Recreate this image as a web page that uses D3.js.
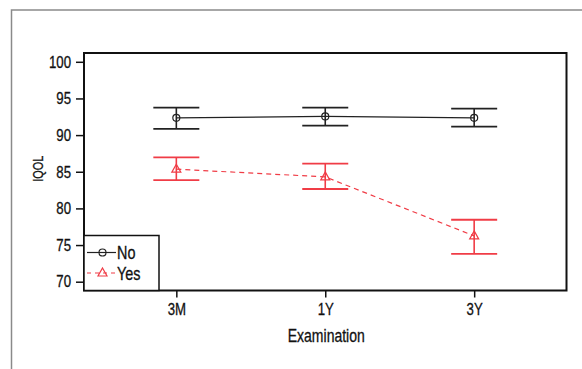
<!DOCTYPE html>
<html>
<head>
<style>
body { margin: 0; background: #fff; }
text {
    font-family: "Liberation Sans", Arial, sans-serif;
    font-size: 16px;
    fill: #111;
    stroke: #111;
    stroke-width: 0.3px;
}
.axis path, .axis line { stroke: #111; stroke-width: 1.5px; }
</style>
</head>
<body>
<div id="chart"></div>
<script src="https://d3js.org/d3.v7.min.js"></script>
<script>
(function() {
    var dimensions = { width: 582, height: 369 };
    var margins = { top: 53, right: 15.5, bottom: 78.5, left: 84 };
    var squeeze = 0.8; // fake a narrow face

    var exams = ["3M", "1Y", "3Y"];
    var yTicks = [70, 75, 80, 85, 90, 95, 100];
    var noMean = [92.35, 92.55, 92.35];
    var noLow = [90.85, 91.3, 91.15];
    var noHigh = [93.75, 93.75, 93.6];
    var yesMean = [85.35, 84.3, 76.25];
    var yesLow = [83.85, 82.65, 73.8];
    var yesHigh = [86.95, 86.1, 78.45];

    var series = [
        { name: "No", mean: noMean, low: noLow, high: noHigh, color: "#222", dash: null, marker: "circle" },
        { name: "Yes", mean: yesMean, low: yesLow, high: yesHigh, color: "#f03c46", dash: "5,4", marker: "triangle" }
    ];

    var w = dimensions.width - margins.left - margins.right;
    var h = dimensions.height - margins.top - margins.bottom;

    // squeeze text horizontally around its own x
    function narrow(sel) {
        sel.each(function() {
            var t = d3.select(this);
            var x = +t.attr("x") || 0;
            var y = +t.attr("y") || 0;
            t.attr("x", 0).attr("y", 0)
                .attr("transform", "translate(" + x + "," + y + ") scale(" + squeeze + ",1)");
        });
    }

    var svg = d3.select("#chart").append("svg")
        .attr("width", dimensions.width)
        .attr("height", dimensions.height);

    // outer panel frame (top and left edges only visible)
    svg.append("path")
        .attr("d", "M11.5," + dimensions.height + "V10H" + dimensions.width)
        .attr("fill", "none")
        .attr("stroke", "#8a8a8a")
        .attr("stroke-width", 1.5);

    var xscale = d3.scalePoint()
        .domain(exams)
        .range([0, w])
        .padding(0.62);
    var yscale = d3.scaleLinear()
        .domain([68.8, 101.2])
        .range([h, 0]);

    var g = svg.append("g")
        .attr("transform", "translate(" + margins.left + "," + margins.top + ")");

    g.append("rect")
        .attr("width", w).attr("height", h)
        .attr("fill", "none")
        .attr("stroke", "#111")
        .attr("stroke-width", 2);

    var yaxis = d3.axisLeft(yscale).tickValues(yTicks).tickSize(8).tickPadding(5);
    g.append("g").attr("class", "axis").call(yaxis)
        .call(function(s) { s.select(".domain").remove(); });

    var xaxis = d3.axisBottom(xscale).tickSize(7).tickPadding(6);
    g.append("g").attr("class", "axis")
        .attr("transform", "translate(0," + h + ")")
        .call(xaxis)
        .call(function(s) { s.select(".domain").remove(); });

    g.selectAll(".axis text").style("font-size", "16.5px").attr("fill", "#111")
        .call(narrow);

    g.append("text")
        .attr("x", w / 2 + 1)
        .attr("y", h + 51)
        .attr("text-anchor", "middle")
        .style("font-size", "17.5px")
        .text("Examination")
        .call(narrow);

    g.append("text")
        .attr("transform", "translate(-41.5," + (h / 2 - 3) + ") rotate(-90) scale(0.75,1)")
        .attr("text-anchor", "middle")
        .style("font-size", "14.5px")
        .text("IQOL");

    var line = d3.line()
        .x(function(d, i) { return xscale(exams[i]); })
        .y(function(d) { return yscale(d); });

    function marker(sel, type, color, cx, cy) {
        if (type === "circle") {
            sel.append("circle")
                .attr("cx", cx).attr("cy", cy).attr("r", 3.5)
                .attr("fill", "none").attr("stroke", color).attr("stroke-width", 1.2);
        } else {
            sel.append("path")
                .attr("d", "M" + cx + "," + (cy - 5) + "L" + (cx + 4.5) + "," + (cy + 3) + "L" + (cx - 4.5) + "," + (cy + 3) + "Z")
                .attr("fill", "none").attr("stroke", color).attr("stroke-width", 1.2);
        }
    }

    series.forEach(function(s) {
        var gs = g.append("g");
        gs.append("path")
            .attr("d", line(s.mean))
            .attr("fill", "none")
            .attr("stroke", s.color)
            .attr("stroke-width", 1.2)
            .attr("stroke-dasharray", s.dash);
        exams.forEach(function(e, i) {
            var x = xscale(e);
            gs.append("line")
                .attr("x1", x).attr("x2", x)
                .attr("y1", yscale(s.low[i])).attr("y2", yscale(s.high[i]))
                .attr("stroke", s.color).attr("stroke-width", 1.6);
            [s.low[i], s.high[i]].forEach(function(v) {
                gs.append("line")
                    .attr("x1", x - 23).attr("x2", x + 23)
                    .attr("y1", yscale(v)).attr("y2", yscale(v))
                    .attr("stroke", s.color).attr("stroke-width", 1.8);
            });
            marker(gs, s.marker, s.color, x, yscale(s.mean[i]));
        });
    });

    // legend
    var lg = g.append("g").attr("transform", "translate(0," + (h - 55) + ")");
    lg.append("rect")
        .attr("width", 75).attr("height", 55)
        .attr("fill", "#fff")
        .attr("stroke", "#111")
        .attr("stroke-width", 1.5);
    series.forEach(function(s, i) {
        var y = 17 + i * 20.5;
        lg.append("line")
            .attr("x1", 3).attr("x2", 32)
            .attr("y1", y).attr("y2", y)
            .attr("stroke", s.color).attr("stroke-width", 1.2)
            .attr("stroke-dasharray", s.dash ? "4,4" : null);
        marker(lg, s.marker, s.color, 18.5, y);
        lg.append("text")
            .attr("x", 33).attr("y", y + 6.5)
            .style("font-size", "18px")
            .text(s.name)
            .call(narrow);
    });
})();
</script>
</body>
</html>
